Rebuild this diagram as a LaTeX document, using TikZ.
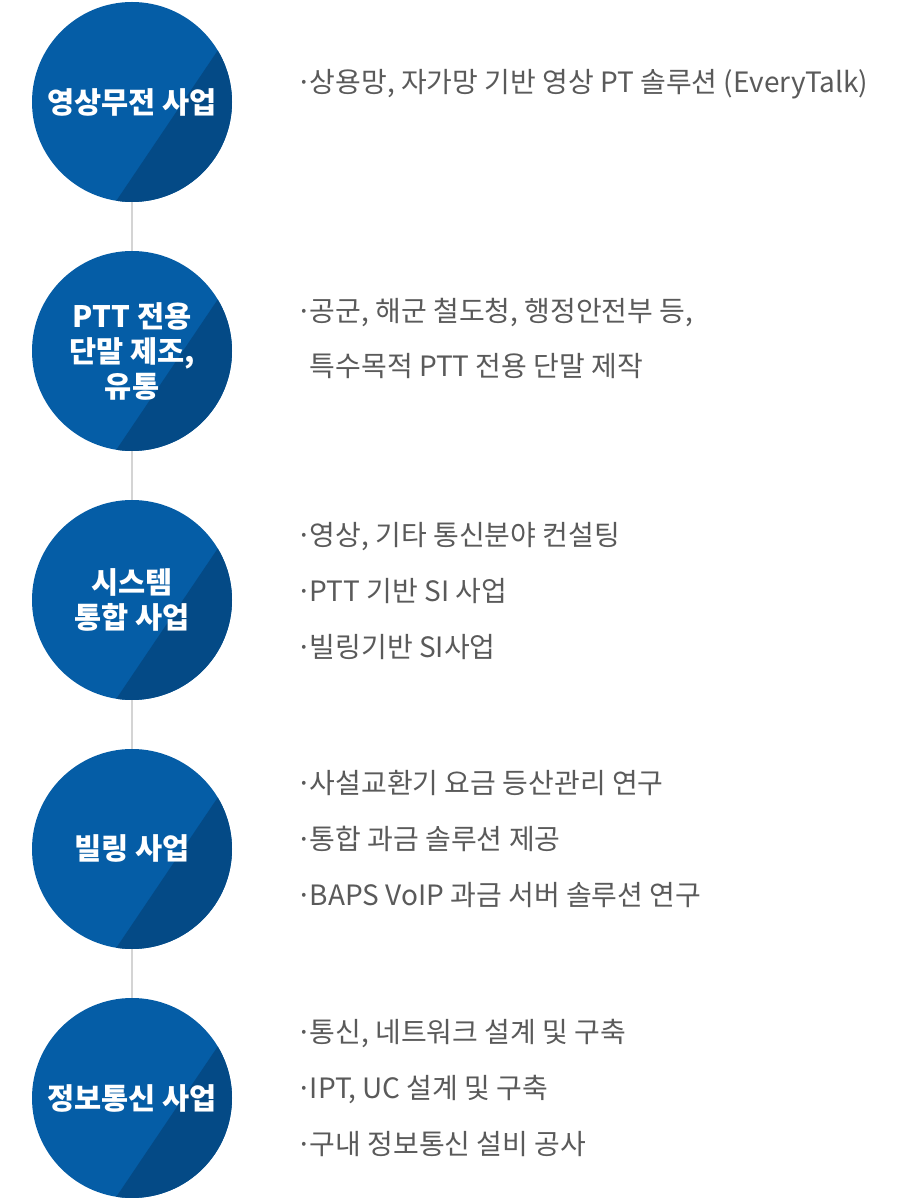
\documentclass[tikz,border=0pt]{standalone}
\usepackage{fontspec}
\setmainfont{Noto Sans CJK KR}
\usetikzlibrary{calc}
\definecolor{blueL}{HTML}{055DA6}
\definecolor{blueD}{HTML}{044A86}
\definecolor{txtgray}{HTML}{5A5A5A}
\definecolor{linegray}{HTML}{D4D4D4}
\newcommand\bul{·\kern-2pt}
\begin{document}
\begin{tikzpicture}[x=1pt,y=1pt,
  bizcircle/.style={circle,minimum size=200pt,inner sep=0pt,outer sep=0pt,fill=blueL,
    text=white,align=center,font=\fontsize{29.5}{35}\selectfont\bfseries},
  item/.style={anchor=base west,inner sep=0pt,text=txtgray,font=\fontsize{28}{32}\selectfont},
  link/.style={draw=linegray,line width=2pt}]
\useasboundingbox (0,0) rectangle (900,1200);
\fill[white] (0,0) rectangle (900,1200);

% circles (canvas y = 1200 - image y)
\node[bizcircle] (c1) at (132,1098) {};
\node[bizcircle] (c2) at (132,849) {};
\node[bizcircle] (c3) at (132,600) {};
\node[bizcircle] (c4) at (132,351) {};
\node[bizcircle] (c5) at (132,102) {};

\draw[link] (c1.south) -- (c2.north);
\draw[link] (c2.south) -- (c3.north);
\draw[link] (c3.south) -- (c4.north);
\draw[link] (c4.south) -- (c5.north);

\foreach \c in {c1,c2,c3,c4,c5}{
  \begin{scope}
    \clip (\c.center) circle (100pt);
    \fill[blueD] (\c.261.4) -- (\c.31.9) -- ($(\c.center)+(130pt,53pt)$)
      -- ($(\c.center)+(130pt,-130pt)$) -- ($(\c.center)+(-15pt,-130pt)$) -- cycle;
  \end{scope}
}

\node[bizcircle,fill=none] (t1) at (c1.center) {영상무전 사업};
\node[bizcircle,fill=none] (t2) at (c2.center) {PTT 전용\\단말 제조,\\유통};
\node[bizcircle,fill=none] (t3) at (c3.center) {시스템\\통합 사업};
\node[bizcircle,fill=none] (t4) at (c4.center) {빌링 사업};
\node[bizcircle,fill=none] (t5) at (c5.center) {정보통신 사업};

% right-hand items (baselines)
\node[item] (a1) at (296,1107) {\bul 상용망, 자가망 기반 영상 PT 솔루션 (EveryTalk)};

\node[item] (b1) at (296,878) {\bul 공군, 해군 철도청, 행정안전부 등,};
\node[item] (b2) at (296,823) {\phantom{\bul}특수목적 PTT 전용 단말 제작};

\node[item] (d1) at (296,654) {\bul 영상, 기타 통신분야 컨설팅};
\node[item] (d2) at (296,598) {\bul PTT 기반 SI 사업};
\node[item] (d3) at (296,542) {\bul 빌링기반 SI사업};

\node[item] (e1) at (296,406) {\bul 사설교환기 요금 등산관리 연구};
\node[item] (e2) at (296,350) {\bul 통합 과금 솔루션 제공};
\node[item] (e3) at (296,294) {\bul BAPS VoIP 과금 서버 솔루션 연구};

\node[item] (f1) at (296,157) {\bul 통신, 네트워크 설계 및 구축};
\node[item] (f2) at (296,101) {\bul IPT, UC 설계 및 구축};
\node[item] (f3) at (296,45) {\bul 구내 정보통신 설비 공사};
\end{tikzpicture}
\end{document}
